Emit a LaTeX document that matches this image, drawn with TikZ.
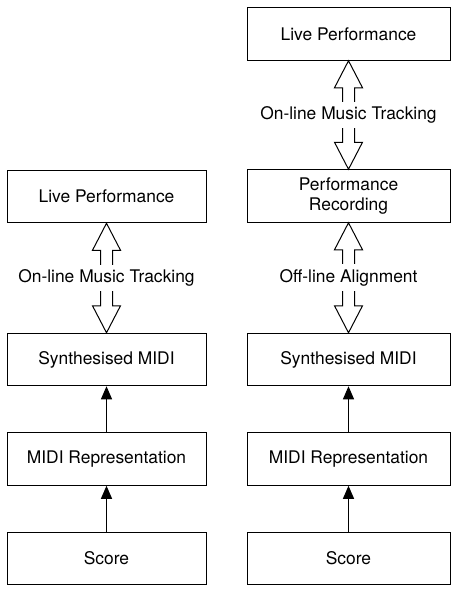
\documentclass[tikz,border=0pt]{standalone}
\usepackage{fontspec}
\setmainfont{TeX Gyre Heros}
\usetikzlibrary{arrows.meta,calc}
\begin{document}
\begin{tikzpicture}[x=1pt,y=-1pt,
  lbl/.style={font=\fontsize{17.4}{20}\selectfont},
  boxl/.style={draw, line width=1pt, minimum width=199pt, minimum height=52.5pt, inner sep=0pt, align=center, lbl},
  boxr/.style={boxl, minimum width=203pt},
  flow/.style={line width=1pt, -{Triangle[length=13pt,width=11pt]}},
  dbl/.style={line width=1pt, fill=white, line join=miter},
  tag/.style={lbl, fill=white, inner xsep=2pt, inner ysep=5pt}]
\useasboundingbox (0,0) rectangle (453,592);
% left column
\node[boxl] (lLP) at (106.5,196.5) {Live Performance};
\node[boxl] (lSM) at (106.5,359.5) {Synthesised MIDI};
\node[boxl] (lMR) at (106.5,459) {MIDI Representation};
\node[boxl] (lSc) at (106.5,558.5) {Score};
% right column
\node[boxr] (rLP) at (348.5,34) {Live Performance};
\node[boxr] (rPR) at (348.5,196) {Performance\\Recording};
\node[boxr] (rSM) at (348.5,359.5) {Synthesised MIDI};
\node[boxr] (rMR) at (348.5,459) {MIDI Representation};
\node[boxr] (rSc) at (348.5,558.5) {Score};
% single arrows
\draw[flow] (lSc) -- (lMR);
\draw[flow] (lMR) -- (lSM);
\draw[flow] (rSc) -- (rMR);
\draw[flow] (rMR) -- (rSM);
% double arrows
\newcommand{\dblarrow}[3]{%
  \draw[dbl] (#1.south) -- ++(14,27) -- ++(-8,0) -- ($(#2.north)+(6,-27)$) -- ++(8,0) -- (#2.north)
    -- ++(-14,-27) -- ++(8,0) -- ($(#1.south)+(-6,27)$) -- ++(-8,0) -- cycle;
  \node[tag] at ($(#1.south)!0.5!(#2.north)$) {#3};}
\dblarrow{lLP}{lSM}{On-line Music Tracking}
\dblarrow{rLP}{rPR}{On-line Music Tracking}
\dblarrow{rPR}{rSM}{Off-line Alignment}
\end{tikzpicture}
\end{document}
